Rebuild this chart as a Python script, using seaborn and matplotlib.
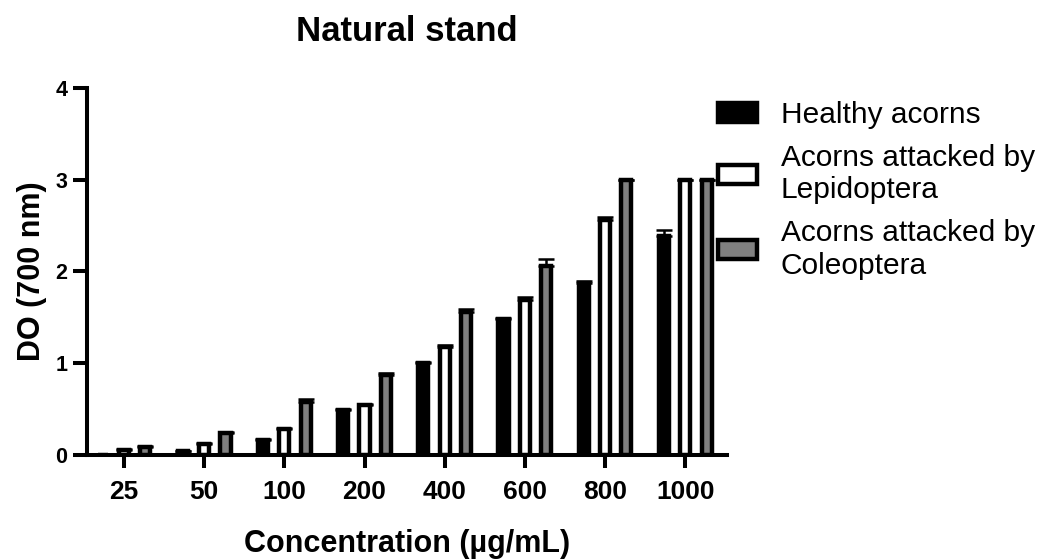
import pandas as pd
import matplotlib.pyplot as plt
import seaborn as sns

# Values (OD at 700 nm)
concentrations = ["25", "50", "100", "200", "400", "600", "800", "1000"]
groups = ["Healthy acorns", "Acorns attacked by\nLepidoptera", "Acorns attacked by\nColeoptera"]

healthy = [0.0, 0.04, 0.16, 0.49, 1.00, 1.48, 1.87, 2.38]
healthy_err = [0.0, 0.0, 0.01, 0.01, 0.01, 0.01, 0.02, 0.07]
lepidoptera = [0.05, 0.12, 0.28, 0.54, 1.18, 1.69, 2.56, 3.00]
lepidoptera_err = [0.01, 0.01, 0.01, 0.01, 0.02, 0.03, 0.03, 0.0]
coleoptera = [0.08, 0.24, 0.57, 0.87, 1.56, 2.06, 3.00, 3.00]
coleoptera_err = [0.01, 0.01, 0.04, 0.02, 0.03, 0.07, 0.0, 0.0]

colors = ["black", "white", "#808080"]

values = [healthy, lepidoptera, coleoptera]
errors = [healthy_err, lepidoptera_err, coleoptera_err]

df = pd.DataFrame({
    "Concentration": concentrations * 3,
    "Group": [g for g in groups for _ in concentrations],
    "DO": healthy + lepidoptera + coleoptera,
})

sns.set_style("ticks")
plt.rcParams["font.family"] = ["Liberation Sans", "DejaVu Sans"]
plt.rcParams.update({
    "text.color": "black", "axes.labelcolor": "black", "axes.edgecolor": "black",
    "xtick.color": "black", "ytick.color": "black",
})

fig, ax = plt.subplots(figsize=(10.4, 5.6), dpi=100)
fig.subplots_adjust(left=0.0837, right=0.699, bottom=0.188, top=0.843)

sns.barplot(
    data=df, x="Concentration", y="DO", hue="Group",
    order=concentrations, hue_order=groups, palette=colors,
    saturation=1, edgecolor="black", linewidth=3.2,
    width=0.8, gap=0.53, errorbar=None, ax=ax,
)

# Upper-only error bars placed on the drawn bars
for container, err, vals in zip(ax.containers, errors, values):
    xs = [p.get_x() + p.get_width() / 2 for p in container.patches]
    ax.errorbar(
        xs, vals, yerr=[[0] * len(err), err], fmt="none",
        ecolor="black", elinewidth=1.8, capsize=5.5, capthick=1.8, zorder=1,
    )

ax.set_ylim(0, 4)
ax.set_yticks([0, 1, 2, 3, 4])
ax.set_xlim(-0.46, 7.52)
sns.despine(ax=ax)
for side in ["left", "bottom"]:
    ax.spines[side].set_linewidth(2.9)

ax.tick_params(axis="y", length=10, width=2.9, pad=4, labelsize=15.5)
ax.tick_params(axis="x", length=9, width=2.9, pad=9, labelsize=19)
for lbl in ax.get_xticklabels() + ax.get_yticklabels():
    lbl.set_fontweight("bold")

ax.set_xlabel("Concentration (µg/mL)", fontsize=22, fontweight="bold", labelpad=18)
ax.set_ylabel("DO (700 nm)", fontsize=22, fontweight="bold", labelpad=6)
ax.set_title("Natural stand", fontsize=25, fontweight="bold", pad=34)

sns.move_legend(
    ax, "upper left", bbox_to_anchor=(718 / 1040, 1 - 101 / 560),
    bbox_transform=fig.transFigure, frameon=False, title=None,
    fontsize=21.5, handlelength=1.3, handleheight=0.6,
    handletextpad=0.8, labelspacing=0.5, borderpad=0, borderaxespad=0,
)

plt.savefig("out.png", dpi=100)
